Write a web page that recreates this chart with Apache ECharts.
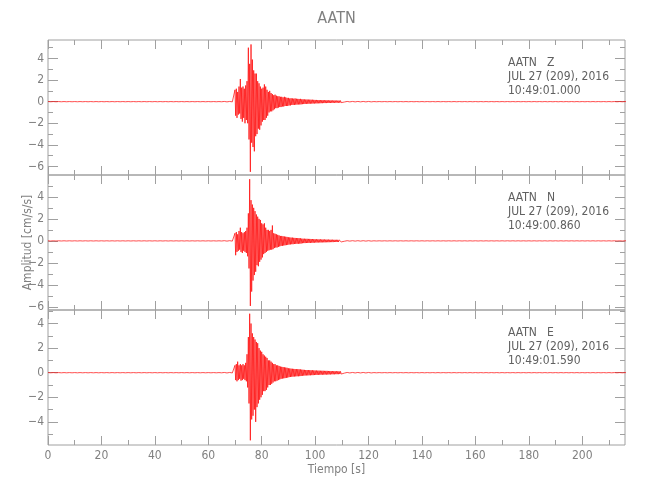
<!DOCTYPE html>
<html><head><meta charset="utf-8">
<script src="https://cdn.jsdelivr.net/npm/echarts@6/dist/echarts.min.js"></script>
<style>html,body{margin:0;padding:0;background:#fff}#c{width:650px;height:500px}</style>
</head><body><div id="c"></div>
<script>
// ---------- data ----------
const stationName = 'AATN';
const components = ['Z', 'N', 'E'];
const dateLabel = 'JUL 27 (209), 2016';
const startTimes = ['10:49:01.000', '10:49:00.860', '10:49:01.590'];
const xMax = 216;
const xMajorTicks = [0, 20, 40, 60, 80, 100, 120, 140, 160, 180, 200];
const xMinorTicks = [10, 30, 50, 70, 90, 110, 130, 150, 170, 190, 210];
const yMins = [-6.79, -6.27, -5.88];
const yMaxs = [5.71, 5.98, 5.1];
const yMajorTicks = [[-6, -4, -2, 0, 2, 4], [-6, -4, -2, 0, 2, 4], [-4, -2, 0, 2, 4]];
const yMinorTicks = [[-5, -3, -1, 1, 3, 5], [-5, -3, -1, 1, 3, 5], [-5, -3, -1, 1, 3, 5]];

// pre-event noise (0 .. 70 s, every 2 s)
const preStart = 0, preStep = 2;
const preHi = [0.01,0.01,0.01,0.01,0.01,0.01,0.01,0.01,0.01,0.01,0.01,0.01,0.01,0.01,0.01,0.01,0.01,0.01,0.01,0.01,0.01,0.01,0.01,0.01,0.01,0.01,0.01,0.01,0.01,0.01,0.01,0.01,0.01,0.02,0.02];
const preLo = [-0.01,-0.01,-0.01,-0.01,-0.01,-0.01,-0.01,-0.01,-0.01,-0.01,-0.01,-0.01,-0.01,-0.01,-0.01,-0.01,-0.01,-0.01,-0.01,-0.01,-0.01,-0.01,-0.01,-0.01,-0.01,-0.01,-0.01,-0.01,-0.01,-0.01,-0.01,-0.01,-0.01,-0.02,-0.02];

// event envelope (70 .. 110 s, every 0.5 s): max / min per bin
const eventStart = 70, eventStep = 0.5;
const zHi = [1.1,1.2,0.9,1.4,2.1,1.3,1.4,1.2,1.5,1.9,
  5.0,3.5,5.3,3.9,2.9,2.6,2.6,1.9,1.7,1.4,
  1.2,1.3,1.6,1.4,1.1,0.9,1.0,0.8,0.7,0.6,
  0.65,0.55,0.5,0.5,0.45,0.45,0.4,0.45,0.4,0.35,
  0.35,0.3,0.32,0.3,0.28,0.3,0.27,0.26,0.25,0.26,
  0.22,0.22,0.21,0.2,0.2,0.19,0.19,0.18,0.18,0.17,
  0.16,0.16,0.15,0.15,0.14,0.14,0.14,0.13,0.13,0.13,
  0.12,0.12,0.12,0.11,0.11,0.11,0.1,0.1,0.1,0.1];
const zLo = [-1.3,-1.5,-1.2,-1.1,-1.6,-1.85,-1.5,-2.0,-1.7,-2.0,
  -3.5,-6.5,-3.8,-4.2,-4.6,-3.2,-3.0,-2.5,-2.6,-2.2,
  -1.85,-1.7,-1.7,-1.5,-1.3,-1.0,-0.9,-0.9,-0.8,-0.7,
  -0.6,-0.6,-0.55,-0.5,-0.5,-0.45,-0.45,-0.4,-0.4,-0.4,
  -0.35,-0.35,-0.3,-0.3,-0.3,-0.28,-0.27,-0.26,-0.26,-0.25,
  -0.23,-0.22,-0.21,-0.2,-0.2,-0.19,-0.18,-0.18,-0.17,-0.17,
  -0.16,-0.16,-0.15,-0.15,-0.14,-0.14,-0.13,-0.13,-0.13,-0.12,
  -0.12,-0.12,-0.11,-0.11,-0.11,-0.1,-0.1,-0.1,-0.1,-0.09];
const nHi = [0.7,0.8,0.6,0.9,1.2,0.8,0.7,0.8,0.9,1.2,
  2.5,5.6,3.7,3.3,3.0,2.7,2.4,2.2,2.0,1.9,
  1.6,1.5,1.6,1.2,1.0,1.0,0.9,1.0,1.4,0.7,
  0.65,0.6,0.55,0.5,0.45,0.45,0.42,0.4,0.38,0.36,
  0.33,0.32,0.3,0.3,0.28,0.27,0.26,0.26,0.25,0.24,
  0.21,0.2,0.2,0.19,0.19,0.18,0.18,0.17,0.17,0.16,
  0.15,0.15,0.14,0.14,0.14,0.13,0.13,0.13,0.12,0.12,
  0.12,0.11,0.11,0.11,0.1,0.1,0.1,0.1,0.09,0.09];
const nLo = [-1.3,-1.0,-0.9,-0.8,-1.0,-1.1,-0.9,-1.0,-1.1,-1.4,
  -2.5,-5.9,-4.6,-3.6,-3.1,-2.8,-2.2,-2.3,-1.9,-1.7,
  -1.5,-1.2,-1.1,-1.0,-0.9,-0.85,-0.8,-0.8,-0.75,-0.65,
  -0.6,-0.6,-0.55,-0.5,-0.45,-0.45,-0.42,-0.4,-0.38,-0.36,
  -0.33,-0.32,-0.3,-0.3,-0.28,-0.27,-0.26,-0.26,-0.25,-0.24,
  -0.21,-0.2,-0.2,-0.19,-0.19,-0.18,-0.18,-0.17,-0.17,-0.16,
  -0.15,-0.15,-0.14,-0.14,-0.14,-0.13,-0.13,-0.13,-0.12,-0.12,
  -0.12,-0.11,-0.11,-0.11,-0.1,-0.1,-0.1,-0.1,-0.09,-0.09];
const eHi = [0.6,0.7,0.9,0.6,0.7,0.6,0.7,0.6,0.8,1.5,
  2.9,4.8,4.0,3.2,2.9,2.7,2.5,2.4,2.0,1.8,
  1.7,1.5,1.4,1.3,1.2,1.0,1.0,0.9,0.8,0.7,
  0.7,0.6,0.6,0.55,0.5,0.48,0.46,0.44,0.42,0.4,
  0.36,0.35,0.33,0.32,0.31,0.3,0.29,0.29,0.28,0.27,
  0.25,0.24,0.23,0.22,0.22,0.21,0.21,0.2,0.2,0.19,
  0.18,0.18,0.17,0.17,0.16,0.16,0.16,0.15,0.15,0.15,
  0.14,0.14,0.13,0.13,0.13,0.12,0.12,0.12,0.11,0.11];
const eLo = [-0.6,-0.7,-0.6,-0.5,-0.65,-0.6,-0.5,-0.6,-0.7,-1.2,
  -2.5,-5.5,-3.8,-3.5,-3.0,-4.0,-2.8,-2.5,-2.2,-2.0,
  -1.8,-1.5,-1.5,-1.4,-1.2,-1.0,-1.0,-0.9,-0.8,-0.7,
  -0.7,-0.65,-0.6,-0.55,-0.5,-0.48,-0.46,-0.44,-0.42,-0.4,
  -0.36,-0.35,-0.33,-0.32,-0.31,-0.3,-0.29,-0.29,-0.28,-0.27,
  -0.25,-0.24,-0.23,-0.22,-0.22,-0.21,-0.21,-0.2,-0.2,-0.19,
  -0.18,-0.18,-0.17,-0.17,-0.16,-0.16,-0.16,-0.15,-0.15,-0.15,
  -0.14,-0.14,-0.13,-0.13,-0.13,-0.12,-0.12,-0.12,-0.11,-0.11];

// coda tail (110 .. 216 s, every 2 s)
const tailStart = 110, tailStep = 2;
const tailHi = [0.03,0.02,0.02,0.02,0.02,0.02,0.01,0.01,0.01,0.01,0.01,0.01,0.01,0.01,0.01,0.01,0.01,0.01,0.01,0.01,0.01,0.01,0.01,0.01,0.01,0.01,0.01,0.01,0.01,0.01,0.01,0.01,0.01,0.01,0.01,0.01,0.01,0.01,0.01,0.01,0.01,0.01,0.01,0.01,0.01,0.01,0.01,0.01,0.01,0.01,0.01,0.01,0.01,0.01];
const tailLo = [-0.03,-0.02,-0.02,-0.02,-0.02,-0.02,-0.01,-0.01,-0.01,-0.01,-0.01,-0.01,-0.01,-0.01,-0.01,-0.01,-0.01,-0.01,-0.01,-0.01,-0.01,-0.01,-0.01,-0.01,-0.01,-0.01,-0.01,-0.01,-0.01,-0.01,-0.01,-0.01,-0.01,-0.01,-0.01,-0.01,-0.01,-0.01,-0.01,-0.01,-0.01,-0.01,-0.01,-0.01,-0.01,-0.01,-0.01,-0.01,-0.01,-0.01,-0.01,-0.01,-0.01,-0.01];

const eventHi = [zHi, nHi, eHi];
const eventLo = [zLo, nLo, eLo];

// ---------- build ----------
function pushEnv(out, hi, lo, start, step) {
  for (let i = 0; i < hi.length; i++) {
    out.push([start + i * step, hi[i]]);
    out.push([start + i * step + step / 2, lo[i]]);
  }
}
function traceData(k) {
  const d = [];
  pushEnv(d, preHi, preLo, preStart, preStep);
  pushEnv(d, eventHi[k], eventLo[k], eventStart, eventStep);
  pushEnv(d, tailHi, tailLo, tailStart, tailStep);
  return d;
}

const FONT = '"DejaVu Sans Condensed", "Liberation Sans Narrow", "Roboto Condensed", sans-serif';
const frameColor = '#a0a0a0';
const labelColor = '#808080';
const textColor = '#606060';
const gridLeft = 48, gridRight = 25, gridTop0 = 40, gridH = 135;

const fmtNum = v => (v < 0 ? '\u2212' + (-v) : String(v));

const grids = [], xAxes = [], yAxes = [], series = [], graphics = [];
for (let g = 0; g < 3; g++) {
  const top = gridTop0 + g * gridH;
  grids.push({ left: gridLeft, right: gridRight, top: top, height: gridH, show: true, borderColor: frameColor, borderWidth: 1, containLabel: false });
  const xa = (pos, ticks, len, labels) => ({
    gridIndex: g, type: 'value', min: 0, max: xMax, position: pos,
    axisLine: { show: false, onZero: false }, splitLine: { show: false },
    axisTick: { show: true, inside: true, length: len, customValues: ticks, lineStyle: { color: frameColor, width: 1 } },
    axisLabel: labels ? { show: true, customValues: ticks, color: labelColor, fontSize: 12, fontFamily: FONT, margin: 5 } : { show: false },
    name: (labels ? 'Tiempo [s]' : ''), nameLocation: 'middle', nameGap: 19, nameMoveOverlap: false,
    nameTextStyle: { color: labelColor, fontSize: 12, fontFamily: FONT }
  });
  xAxes.push(xa('bottom', xMajorTicks, 9, g === 2));
  xAxes.push(xa('bottom', xMinorTicks, 5, false));
  xAxes.push(xa('top', xMajorTicks, 9, false));
  xAxes.push(xa('top', xMinorTicks, 5, false));
  const ya = (pos, ticks, len, labels) => ({
    gridIndex: g, type: 'value', min: yMins[g], max: yMaxs[g], position: pos,
    axisLine: { show: false, onZero: false }, splitLine: { show: false },
    axisTick: { show: true, inside: true, length: len, customValues: ticks, lineStyle: { color: frameColor, width: 1 } },
    axisLabel: labels ? { show: true, customValues: ticks, color: labelColor, fontSize: 12, fontFamily: FONT, margin: 4, formatter: fmtNum } : { show: false },
    name: (labels && g === 1 ? 'Amplitud [cm/s/s]' : ''), nameLocation: 'middle', nameRotate: 90, nameGap: 14, nameMoveOverlap: false,
    nameTextStyle: { color: labelColor, fontSize: 12, fontFamily: FONT }
  });
  yAxes.push(ya('left', yMajorTicks[g], 10, true));
  yAxes.push(ya('left', yMinorTicks[g], 5, false));
  yAxes.push(ya('right', yMajorTicks[g], 10, false));
  yAxes.push(ya('right', yMinorTicks[g], 5, false));
  series.push({
    type: 'line', xAxisIndex: 4 * g, yAxisIndex: 4 * g, data: traceData(g),
    showSymbol: false, symbol: 'none', lineStyle: { color: '#ff0000', width: 0.7 },
    silent: true, animation: false, clip: true
  });
  graphics.push({
    type: 'text', x: 508, y: top + 16,
    style: { text: stationName + '   ' + components[g] + '\n' + dateLabel + '\n' + startTimes[g],
      fill: textColor, font: '12px ' + FONT, lineHeight: 14, textAlign: 'left', textVerticalAlign: 'top' }
  });
}
graphics.push({
  type: 'text', x: gridLeft + (650 - gridLeft - gridRight) / 2, y: 19,
  style: { text: stationName, fill: labelColor, font: '16px ' + FONT, textAlign: 'center', textVerticalAlign: 'middle' }
});

const chart = echarts.init(document.getElementById('c'), null, { renderer: 'canvas' });
chart.setOption({
  backgroundColor: '#fff', animation: false,
  grid: grids, xAxis: xAxes, yAxis: yAxes, series: series, graphic: graphics
});
</script></body></html>
